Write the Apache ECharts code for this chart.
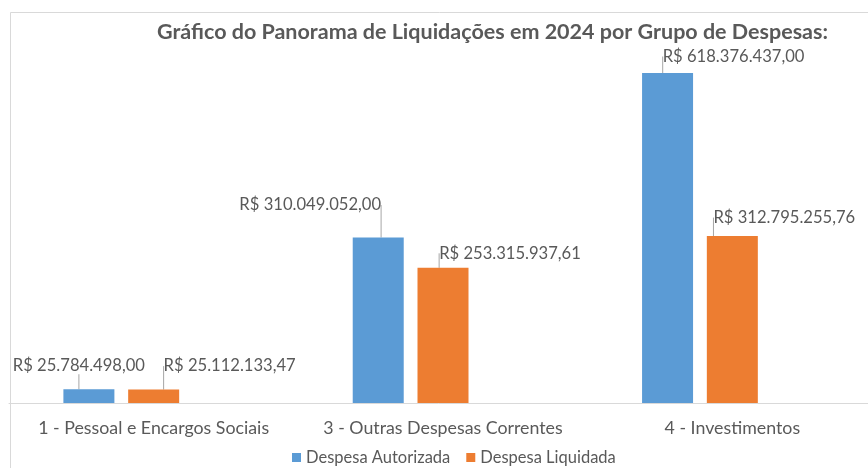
<!DOCTYPE html>
<html>
<head>
<meta charset="utf-8">
<script src="https://cdn.jsdelivr.net/npm/echarts@6/dist/echarts.min.js"></script>
<style>
  html, body { margin: 0; padding: 0; background: #fff; }
  #main { width: 868px; height: 468px; }
</style>
</head>
<body>
<div id="main"></div>
<script>
// dados do gráfico
var categorias = ['1 - Pessoal e Encargos Sociais', '3 - Outras Despesas Correntes', '4 - Investimentos'];
var autorizada = [25784498.00, 310049052.00, 618376437.00];
var liquidada = [25112133.47, 253315937.61, 312795255.76];

// deslocamento dos rótulos (como no Excel)
var offsAut = [[-10, -10], [-68, -19], [66, -3]];
var offsLiq = [[76, -10], [67, -1], [52, -5]];

var cinza = '#595959';
var fonte = 'Lato, sans-serif';

function moeda(v) {
  var partes = v.toFixed(2).split('.');
  var inteiro = partes[0].replace(/\B(?=(\d{3})+(?!\d))/g, '.');
  return 'R$ ' + inteiro + ',' + partes[1];
}

var myChart = echarts.init(document.getElementById('main'));

function serie(nome, dados, cor, offs) {
  return {
    name: nome,
    type: 'bar',
    data: dados,
    barWidth: 51,
    barGap: '27%',
    itemStyle: { color: cor },
    label: {
      show: true,
      position: 'top',
      distance: 5,
      color: cinza,
      fontFamily: fonte,
      fontSize: 16.6,
      formatter: function (p) { return moeda(p.value); }
    },
    labelLine: {
      show: true,
      lineStyle: { color: '#a6a6a6', width: 1 }
    },
    labelLayout: function (p) {
      var o = offs[p.dataIndex];
      return { dx: o[0], dy: o[1] };
    }
  };
}

var option = {
  animation: false,
  backgroundColor: '#fff',
  title: {
    text: 'Gráfico do Panorama de Liquidações em 2024 por Grupo de Despesas:',
    left: 152,
    top: 16,
    textStyle: { color: cinza, fontFamily: fonte, fontSize: 21.5, fontWeight: 'bold' }
  },
  legend: {
    left: 292,
    top: 449,
    padding: 0,
    icon: 'rect',
    itemWidth: 9,
    itemHeight: 9,
    itemGap: 16,
    textStyle: { color: cinza, fontFamily: fonte, fontSize: 16.5 },
    data: ['Despesa Autorizada', 'Despesa Liquidada']
  },
  graphic: [{
    type: 'rect',
    left: 8,
    top: 10,
    shape: { width: 900, height: 500 },
    style: { fill: 'none', stroke: '#d9d9d9', lineWidth: 1 },
    silent: true
  }],
  grid: { left: 9, right: -9, top: 50, bottom: 65, outerBoundsMode: 'none' },
  xAxis: {
    type: 'category',
    data: categorias,
    axisLine: { lineStyle: { color: '#d9d9d9' } },
    axisTick: { show: false },
    axisLabel: { interval: 0, color: cinza, fontFamily: fonte, fontSize: 17.8, margin: 16 }
  },
  yAxis: {
    type: 'value',
    min: 0,
    max: 661500000,
    show: false,
    splitLine: { show: false }
  },
  series: [
    serie('Despesa Autorizada', autorizada, '#5b9bd5', offsAut),
    serie('Despesa Liquidada', liquidada, '#ed7d31', offsLiq),
    // terceira série vazia do Excel (reserva o espaço à direita)
    { name: 'vazio', type: 'bar', data: [], barWidth: 51, barGap: '27%', silent: true }
  ]
};

myChart.setOption(option);
</script>
</body>
</html>
